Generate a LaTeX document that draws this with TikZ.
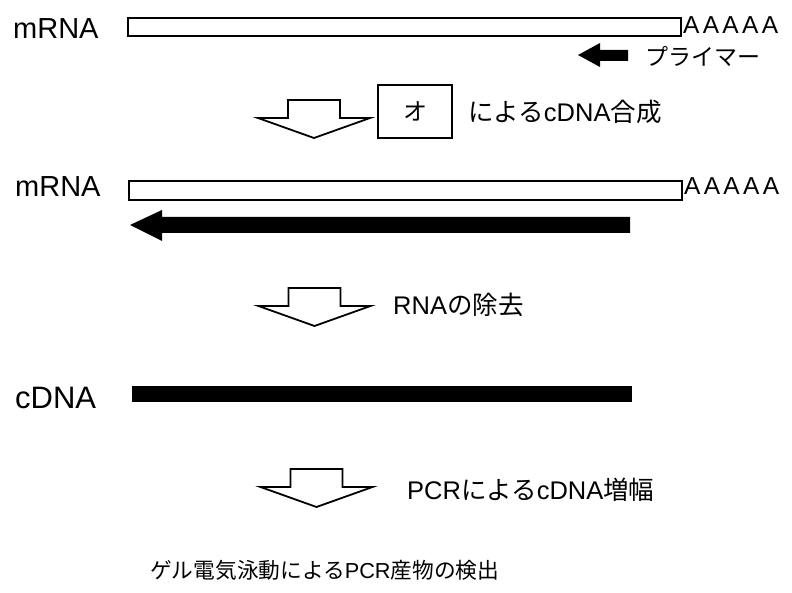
\documentclass[tikz,border=0pt]{standalone}
\usepackage{fontspec}
\setmainfont{Liberation Sans}
\newfontfamily\jp{Noto Sans CJK JP}
\newcommand{\fsz}[1]{\fontsize{#1}{#1}\selectfont}
\begin{document}
\begin{tikzpicture}[x=1pt,y=-1pt,
  rnabar/.style={draw, line width=1.8pt, fill=white, inner sep=0pt, anchor=north west},
  cdnabar/.style={fill=black, draw=none, inner sep=0pt, anchor=north west},
  lbl/.style={inner sep=0pt, anchor=west},
  biglbl/.style={inner sep=0pt, anchor=base west, font=\fsz{29}},
  tail/.style={inner sep=0pt, anchor=base west, font=\fsz{24.5}},
  jplbl/.style={inner sep=0pt, anchor=west, font=\fsz{25.5}},
  enzbox/.style={draw, line width=1.7pt, inner sep=0pt, minimum width=74pt, minimum height=53pt, font=\jp\fsz{24}},
  openarrow/.style={draw, line width=1.8pt, fill=white, line join=miter},
  downarrow/.pic={\draw[openarrow] (-26,0) -- (26,0) -- (26,18) -- (56,18) -- (0,38) -- (-56,18) -- (-26,18) -- cycle;}
]
\useasboundingbox (0,0) rectangle (792,593);

% row 1
\node[biglbl] (m1) at (13,39) {mRNA};
\node[rnabar, minimum width=553pt, minimum height=18pt] (bar1) at (127,17) {};
\node[tail] (a1) at (683,34) {A\kern3.3pt A\kern3.3pt A\kern3.3pt A\kern3.3pt A};
\fill (578,55) -- (600,43) -- (600,50) -- (628,50) -- (628,61) -- (600,61) -- (600,67) -- cycle;
\node[lbl, font=\jp\fsz{23}] (primer) at (645,56) {プライマー};

% step 1
\pic at (314,100) {downarrow};
\node[enzbox] (enz) at (415,111.5) {オ};
\node[jplbl] (s1) at (468,112) {{\jp による}cDNA{\jp 合成}};

% row 2
\node[biglbl] (m2) at (15,197) {mRNA};
\node[rnabar, minimum width=553pt, minimum height=19pt] (bar2) at (128,180) {};
\node[tail] (a2) at (684,195) {A\kern3.3pt A\kern3.3pt A\kern3.3pt A\kern3.3pt A};
\fill (130,225) -- (162,210) -- (162,217) -- (630,217) -- (630,233) -- (162,233) -- (162,241) -- cycle;

% step 2
\pic at (314.5,288) {downarrow};
\node[jplbl] (s2) at (393,305) {RNA{\jp の除去}};

% row 3
\node[biglbl, font=\fsz{31}] (c3) at (15,408) {cDNA};
\node[cdnabar, minimum width=500pt, minimum height=16pt] (bar3) at (132,386) {};

% step 3
\pic at (316.5,469) {downarrow};
\node[jplbl] (s3) at (407,490) {PCR{\jp による}cDNA{\jp 増幅}};

% final
\node[lbl, font=\fsz{21.7}] (fin) at (150,570) {{\jp ゲル電気泳動による}PCR{\jp 産物の検出}};
\end{tikzpicture}
\end{document}
